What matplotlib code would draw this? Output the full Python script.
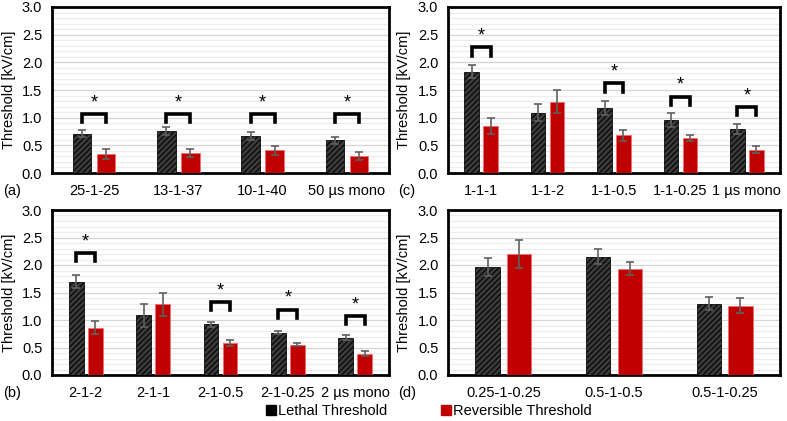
import matplotlib
matplotlib.use("Agg")
import matplotlib.pyplot as plt
import numpy as np
from matplotlib.lines import Line2D

plt.rcParams['font.family'] = ['Liberation Sans', 'DejaVu Sans']

# Panel (a)
cats_a = ["25-1-25", "13-1-37", "10-1-40", "50 µs mono"]
leth_a = [0.71, 0.76, 0.67, 0.59]
leth_err_a = [0.065, 0.065, 0.065, 0.065]
rev_a = [0.34, 0.36, 0.41, 0.31]
rev_err_a = [0.09, 0.065, 0.08, 0.075]
sig_a = [1.07, 1.07, 1.07, 1.07]

# Panel (b)
cats_b = ["2-1-2", "2-1-1", "2-1-0.5", "2-1-0.25", "2 µs mono"]
leth_b = [1.70, 1.09, 0.92, 0.77, 0.68]
leth_err_b = [0.12, 0.21, 0.04, 0.03, 0.05]
rev_b = [0.86, 1.29, 0.58, 0.55, 0.39]
rev_err_b = [0.12, 0.21, 0.05, 0.03, 0.05]
sig_b = [2.22, None, 1.33, 1.19, 1.07]

# Panel (c)
cats_c = ["1-1-1", "1-1-2", "1-1-0.5", "1-1-0.25", "1 µs mono"]
leth_c = [1.83, 1.09, 1.17, 0.96, 0.79]
leth_err_c = [0.12, 0.15, 0.13, 0.12, 0.09]
rev_c = [0.85, 1.29, 0.68, 0.64, 0.42]
rev_err_c = [0.14, 0.21, 0.10, 0.055, 0.06]
sig_c = [2.27, None, 1.62, 1.38, 1.19]

# Panel (d)
cats_d = ["0.25-1-0.25", "0.5-1-0.5", "0.5-1-0.25"]
leth_d = [1.96, 2.15, 1.30]
leth_err_d = [0.16, 0.14, 0.11]
rev_d = [2.20, 1.93, 1.26]
rev_err_d = [0.25, 0.12, 0.14]
sig_d = [None, None, None]

W, H = 787, 421
fig = plt.figure(figsize=(W / 100, H / 100), dpi=100)

def px_axes(l, t, r, b):
    return fig.add_axes([l / W, 1 - b / H, (r - l) / W, (b - t) / H])

RED = '#C00000'
BLK = '#3c3c3c'
ERR = '#606060'
FS = 10.5

def panel(ax, cats, leth, le, rev, re, sig):
    x = np.arange(len(cats))
    bw = 0.22
    off = 0.142
    ax.bar(x - off, leth, bw, color=BLK, edgecolor='#0a0a0a', hatch='//////',
           linewidth=0.6, zorder=3)
    ax.bar(x + off, rev, bw, color=RED, edgecolor='#f07070', linewidth=0.6, zorder=3)
    ax.errorbar(x - off, leth, yerr=le, fmt='none', ecolor=ERR, elinewidth=1.2,
                capsize=3, capthick=1.2, zorder=4)
    ax.errorbar(x + off, rev, yerr=re, fmt='none', ecolor=ERR, elinewidth=1.2,
                capsize=3, capthick=1.2, zorder=4)
    for i, s in enumerate(sig):
        if s is None:
            continue
        ax.plot([i - off, i - off, i + off, i + off], [s - 0.15, s, s, s - 0.15],
                color='black', lw=2.6, solid_joinstyle='miter', zorder=5)
        ax.text(i, s + 0.05, '*', ha='center', va='bottom', fontsize=13, zorder=5)
    ax.set_xlim(-0.5, len(cats) - 0.5)
    ax.set_ylim(0, 3.0)
    ax.set_yticks(np.arange(0, 3.01, 0.5))
    ax.set_yticklabels([f"{v:.1f}" for v in np.arange(0, 3.01, 0.5)], fontsize=FS)
    ax.set_yticks(np.arange(0, 3.01, 0.1), minor=True)
    ax.set_xticks(x)
    ax.set_xticklabels(cats, fontsize=FS)
    ax.tick_params(axis='both', which='both', length=0)
    ax.tick_params(axis='x', pad=8)
    ax.tick_params(axis='y', pad=7)
    ax.grid(axis='y', which='major', color='#d4d4d4', lw=0.9, zorder=0)
    ax.grid(axis='y', which='minor', color='#ececec', lw=0.8, zorder=0)
    ax.set_axisbelow(True)
    for sp in ax.spines.values():
        sp.set_linewidth(2.0)
        sp.set_color('black')
    ax.set_ylabel('Threshold [kV/cm]', fontsize=FS)

ax_a = px_axes(52, 7, 389, 173)
ax_c = px_axes(448, 7, 780, 173)
ax_b = px_axes(52, 210, 389, 375)
ax_d = px_axes(448, 210, 780, 375)

panel(ax_a, cats_a, leth_a, leth_err_a, rev_a, rev_err_a, sig_a)
panel(ax_b, cats_b, leth_b, leth_err_b, rev_b, rev_err_b, sig_b)
panel(ax_c, cats_c, leth_c, leth_err_c, rev_c, rev_err_c, sig_c)
panel(ax_d, cats_d, leth_d, leth_err_d, rev_d, rev_err_d, sig_d)

ax_a.yaxis.set_label_coords((16 - 52) / 337, 0.5)
ax_b.yaxis.set_label_coords((16 - 52) / 337, 0.5)
ax_c.yaxis.set_label_coords((411 - 448) / 332, 0.5)
ax_d.yaxis.set_label_coords((411 - 448) / 332, 0.5)

for lbl, xp, yp in [('(a)', 3, 191), ('(b)', 3, 393), ('(c)', 398, 191), ('(d)', 398, 393)]:
    fig.text(xp / W, 1 - yp / H, lbl, fontsize=FS, ha='left', va='center')

handles = [Line2D([], [], marker='s', color='black', ls='none', markersize=7),
           Line2D([], [], marker='s', color=RED, ls='none', markersize=7)]
fig.legend(handles, ['Lethal Threshold', 'Reversible Threshold'], loc='center',
           bbox_to_anchor=(428 / W, 1 - 411 / H), ncol=2, frameon=False,
           fontsize=FS, handletextpad=0.0, columnspacing=3.5, handlelength=1.0)

fig.savefig('out.png', dpi=100)
